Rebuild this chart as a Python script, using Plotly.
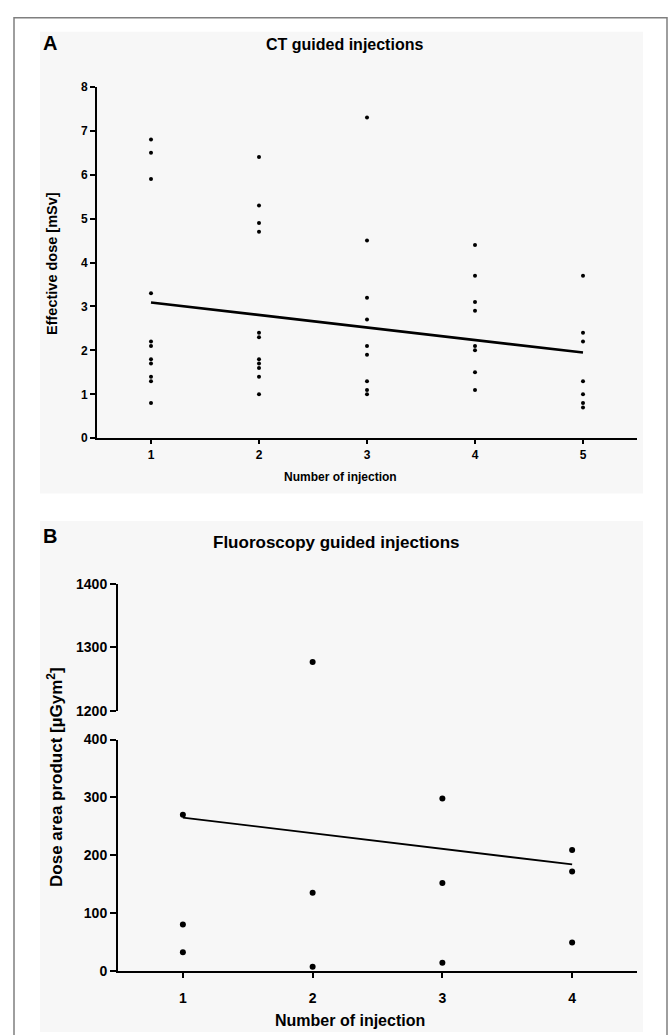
import plotly.graph_objects as go

# ---------------- data ----------------
# Panel A: CT guided injections (effective dose, mSv)
ct_injection = [1] * 11 + [2] * 11 + [3] * 9 + [4] * 8 + [5] * 7
ct_dose = [
    6.8, 6.5, 5.9, 3.3, 2.2, 2.1, 1.8, 1.7, 1.4, 1.3, 0.8,
    6.4, 5.3, 4.9, 4.7, 2.4, 2.3, 1.8, 1.7, 1.6, 1.4, 1.0,
    7.3, 4.5, 3.2, 2.7, 2.1, 1.9, 1.3, 1.1, 1.0,
    4.4, 3.7, 3.1, 2.9, 2.1, 2.0, 1.5, 1.1,
    3.7, 2.4, 2.2, 1.3, 1.0, 0.8, 0.7,
]
ct_fit_x = [1, 5]
ct_fit_y = [3.09, 1.95]
ct_ticks = [1, 2, 3, 4, 5]

# Panel B: Fluoroscopy guided injections (dose area product, uGym^2)
fl_injection = [1, 1, 1, 2, 2, 2, 3, 3, 3, 4, 4, 4]
fl_dap = [270, 80, 32, 1277, 135, 7, 298, 152, 14, 209, 172, 49]
fl_fit_x = [1, 4]
fl_fit_y = [265, 184]
fl_ticks = [1, 2, 3, 4]

W, H = 669, 1035
FONT = "Liberation Sans, Arial, sans-serif"


def fx(px):
    return px / W


def fy(py):
    return 1 - py / H


fig = go.Figure()

# Panel A
fig.add_trace(go.Scatter(x=ct_injection, y=ct_dose, mode="markers",
                         marker=dict(color="black", size=4), xaxis="x", yaxis="y",
                         showlegend=False))
fig.add_trace(go.Scatter(x=ct_fit_x, y=ct_fit_y, mode="lines",
                         line=dict(color="black", width=2.6), xaxis="x", yaxis="y",
                         showlegend=False))

# Panel B (lower and upper segments of broken axis)
lower_x = [x for x, v in zip(fl_injection, fl_dap) if v <= 400]
lower_y = [v for v in fl_dap if v <= 400]
upper_x = [x for x, v in zip(fl_injection, fl_dap) if v >= 1200]
upper_y = [v for v in fl_dap if v >= 1200]
fig.add_trace(go.Scatter(x=lower_x, y=lower_y, mode="markers",
                         marker=dict(color="black", size=6), xaxis="x2", yaxis="y2",
                         showlegend=False))
fig.add_trace(go.Scatter(x=upper_x, y=upper_y, mode="markers",
                         marker=dict(color="black", size=6), xaxis="x2", yaxis="y3",
                         showlegend=False))
fig.add_trace(go.Scatter(x=fl_fit_x, y=fl_fit_y, mode="lines",
                         line=dict(color="black", width=1.8), xaxis="x2", yaxis="y2",
                         showlegend=False))

axis_common = dict(showline=True, linecolor="black", linewidth=2, ticks="outside",
                   tickwidth=2, tickcolor="black", showgrid=False,
                   zeroline=False, fixedrange=True)

fig.update_layout(
    width=W, height=H,
    margin=dict(l=0, r=0, t=0, b=0),
    paper_bgcolor="white",
    plot_bgcolor="rgba(0,0,0,0)",
    font=dict(family=FONT, color="black"),
    xaxis=dict(domain=[fx(97), fx(637)], anchor="y", range=[0.5, 5.5], ticklen=4,
               tickvals=ct_ticks, tickfont=dict(size=12, weight="bold"), **axis_common),
    yaxis=dict(domain=[fy(437), fy(80)], anchor="x", range=[0, 8], dtick=1, ticklen=5,
               tickfont=dict(size=12, weight="bold"), **axis_common),
    xaxis2=dict(domain=[fx(118), fx(637)], anchor="y2", range=[0.5, 4.5], ticklen=5,
                ticklabelstandoff=8,
                tickvals=fl_ticks, tickfont=dict(size=14, weight="bold"), **axis_common),
    yaxis2=dict(domain=[fy(978), fy(743)], anchor="x2", range=[0, 400], dtick=100, ticklen=6,
                tickfont=dict(size=14, weight="bold"), **axis_common),
    yaxis3=dict(domain=[fy(714), fy(585)], anchor="x2", range=[1200, 1400], dtick=100, ticklen=6,
                tickfont=dict(size=14, weight="bold"), **axis_common),
)

shapes = [
    dict(type="rect", xref="paper", yref="paper", x0=fx(40), x1=fx(643), y0=fy(493), y1=fy(24),
         line=dict(width=0), fillcolor="#f7f7f7", layer="below"),
    dict(type="rect", xref="paper", yref="paper", x0=fx(40), x1=fx(643), y0=fy(1040), y1=fy(521),
         line=dict(width=0), fillcolor="#f7f7f7", layer="below"),
    dict(type="rect", xref="paper", yref="paper", x0=fx(14), x1=fx(667), y0=fy(1045), y1=fy(10),
         line=dict(color="#7f7f7f", width=1.5), fillcolor="rgba(0,0,0,0)", layer="below"),
]
fig.update_layout(shapes=shapes)

ann = [
    dict(text="<b>A</b>", x=fx(41), y=fy(36), xanchor="left", yanchor="middle", font=dict(size=20)),
    dict(text="<b>CT guided injections</b>", x=fx(344), y=fy(37), xanchor="center", yanchor="middle",
         font=dict(size=16)),
    dict(text="<b>Effective dose [mSv]</b>", x=fx(52), y=fy(259), xanchor="center", yanchor="middle",
         textangle=-90, font=dict(size=14.5)),
    dict(text="<b>Number of injection</b>", x=fx(340), y=fy(476), xanchor="center", yanchor="middle",
         font=dict(size=12)),
    dict(text="<b>B</b>", x=fx(41), y=fy(536), xanchor="left", yanchor="middle", font=dict(size=20)),
    dict(text="<b>Fluoroscopy guided injections</b>", x=fx(336), y=fy(543), xanchor="center",
         yanchor="middle", font=dict(size=17)),
    dict(text="<b>Dose area product [µGym<sup>2</sup>]</b>", x=fx(55), y=fy(781), xanchor="center",
         yanchor="middle", textangle=-90, font=dict(size=17)),
    dict(text="<b>Number of injection</b>", x=fx(350), y=fy(1028), xanchor="center", yanchor="middle",
         font=dict(size=16)),
]
for a in ann:
    a.update(xref="paper", yref="paper", showarrow=False)
fig.update_layout(annotations=ann)

fig.write_html("out.html")
